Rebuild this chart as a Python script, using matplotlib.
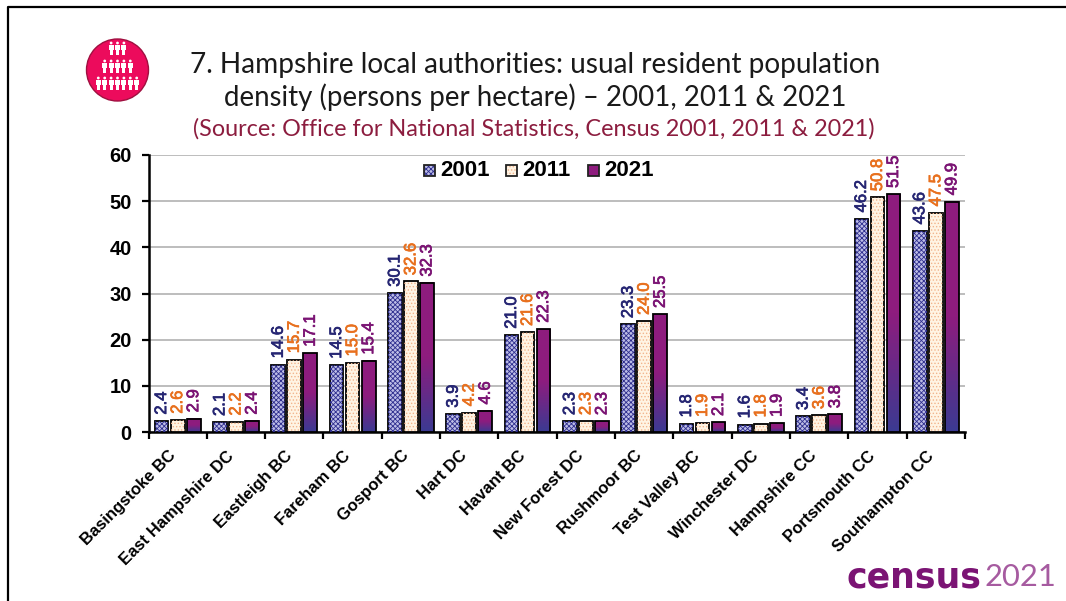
import numpy as np
import matplotlib
matplotlib.use('Agg')
import matplotlib.pyplot as plt
import matplotlib.patheffects as pe
from matplotlib.patches import Circle, Rectangle
from matplotlib.colors import LinearSegmentedColormap

# values
areas = ['Basingstoke BC', 'East Hampshire DC', 'Eastleigh BC', 'Fareham BC', 'Gosport BC',
         'Hart DC', 'Havant BC', 'New Forest DC', 'Rushmoor BC', 'Test Valley BC',
         'Winchester DC', 'Hampshire CC', 'Portsmouth CC', 'Southampton CC']
years = ['2001', '2011', '2021']
values_2001 = [2.4, 2.1, 14.6, 14.5, 30.1, 3.9, 21.0, 2.3, 23.3, 1.8, 1.6, 3.4, 46.2, 43.6]
values_2011 = [2.6, 2.2, 15.7, 15.0, 32.6, 4.2, 21.6, 2.3, 24.0, 1.9, 1.8, 3.6, 50.8, 47.5]
values_2021 = [2.9, 2.4, 17.1, 15.4, 32.3, 4.6, 22.3, 2.3, 25.5, 2.1, 1.9, 3.8, 51.5, 49.9]
y_ticks = [0, 10, 20, 30, 40, 50, 60]

W, H = 1066, 601
plt.rcParams['hatch.linewidth'] = 0.6
plt.rcParams['font.family'] = ['Liberation Sans', 'DejaVu Sans']
title_font = ['Lato', 'DejaVu Sans']

fig = plt.figure(figsize=(W / 100, H / 100), dpi=100)

# background layer in pixel coordinates for frame, icon and logo
bg = fig.add_axes([0, 0, 1, 1])
bg.set_xlim(0, W)
bg.set_ylim(H, 0)
bg.axis('off')
bg.plot([8, 8, 1066], [601, 6.5, 6.5], color='black', lw=1.6)

# population icon
bg.add_patch(Circle((117.5, 70), 31, fc='#EC0B5C', ec='#A01040', lw=1))
for row_y, count in [(48, 3), (66, 5), (83, 7)]:
    for i in range(count):
        px = 117.5 + (i - (count - 1) / 2) * 6.4
        bg.add_patch(Circle((px, row_y - 5), 1.4, fc='white', ec='none'))
        bg.add_patch(Rectangle((px - 2.5, row_y - 3.5), 5, 5.5, fc='white', ec='none'))
        bg.add_patch(Rectangle((px - 1.5, row_y + 2), 3, 5, fc='white', ec='none'))

bg.text(535, 65, '7. Hampshire local authorities: usual resident population', ha='center', va='center',
        fontsize=20.2, color='#1a1a1a', family=title_font)
bg.text(535, 97, 'density (persons per hectare) \u2013 2001, 2011 & 2021', ha='center', va='center',
        fontsize=19.9, color='#1a1a1a', family=title_font)
bg.text(534, 129, '(Source: Office for National Statistics, Census 2001, 2011 & 2021)', ha='center', va='center',
        fontsize=16.8, color='#8C1D3F', family=title_font)

bg.text(847, 577, 'census', ha='left', va='center', fontsize=25, fontweight='bold',
        color='#7B1474', family=['DejaVu Sans'])
bg.text(984, 577, '2021', ha='left', va='center', fontsize=22.2,
        color='#A65BA0', family=['Lato', 'DejaVu Sans'])

# chart
ax = fig.add_axes([148.5 / W, 1 - 432 / H, (965 - 148.5) / W, (432 - 155) / H])
ax.patch.set_alpha(0)
x = np.arange(len(areas))
w = 0.275
bw = 0.235
lw = 1.3

ax.bar(x - w, values_2001, bw, color='#BDBDE6', edgecolor='black', linewidth=lw, zorder=3)
ax.bar(x - w, values_2001, bw, color='none', edgecolor='#2F2F8F', hatch='xxxxxxx', linewidth=0, zorder=3)
ax.bar(x, values_2011, bw, color='#FFF4E4', edgecolor='black', linewidth=lw, zorder=3)
ax.bar(x, values_2011, bw, color='none', edgecolor='#F2B48C', hatch='.....', linewidth=0, zorder=3)
bars = ax.bar(x + w, values_2021, bw, color='none', edgecolor='black', linewidth=lw, zorder=5)

# 2021 bars fade from purple at the top to blue at the bottom
grad = LinearSegmentedColormap.from_list('grad', ['#3C3A92', '#8E1C7E', '#8E1C7E'])
for b in bars:
    ax.imshow(np.linspace(0, 1, 64).reshape(-1, 1), cmap=grad, origin='lower', aspect='auto', zorder=4,
              extent=(b.get_x(), b.get_x() + b.get_width(), 0, b.get_height()))

label_colours = ['#262673', '#E8701E', '#7B1474']
for off, vals, c in zip([-w, 0, w], [values_2001, values_2011, values_2021], label_colours):
    for xi, v in zip(x, vals):
        t = ax.annotate(f'{v:.1f}', (xi + off, v), xytext=(0, 4.5), textcoords='offset points',
                        rotation=90, ha='center', va='bottom', fontsize=12, color=c, zorder=6)
        t.set_path_effects([pe.withStroke(linewidth=0.5, foreground=c)])

ax.set_xlim(-0.5, len(areas) - 0.5)
ax.set_ylim(0, 60)
ax.set_yticks(y_ticks)
ax.set_xticks(np.arange(len(areas) + 1) - 0.5)
ax.set_xticklabels([])

# category labels sit a little left of and below the group centres
for xi, name in zip(x, areas):
    ax.annotate(name, (xi, 0), xycoords=('data', 'axes fraction'), xytext=(-7.2, -11.6),
                textcoords='offset points', rotation=45, ha='right', va='top', rotation_mode='anchor',
                fontsize=12, fontweight='bold', color='black', annotation_clip=False)

ax.tick_params(axis='x', which='major', length=5, width=1.6, direction='out')
ax.tick_params(axis='y', length=5, width=1.6, pad=7, labelsize=14.5)
for t in ax.get_yticklabels():
    t.set_fontweight('bold')
ax.grid(axis='y', color='#BDBDBD', lw=1.4, zorder=0)
ax.set_axisbelow(True)
ax.spines[['top', 'right']].set_visible(False)
for s in ['left', 'bottom']:
    ax.spines[s].set_linewidth(1.8)

# legend, placed by hand like the original
for (lx, label, fc, ec, hatch) in [(424, years[0], '#BDBDE6', '#2F2F8F', 'xxxxxxx'),
                                   (506, years[1], '#FFF4E4', '#F2B48C', '.....'),
                                   (588, years[2], '#8E1C7E', '#8E1C7E', None)]:
    bg.add_patch(Rectangle((lx, 165), 11, 11, fc=fc, ec='none', zorder=8))
    if hatch:
        bg.add_patch(Rectangle((lx, 165), 11, 11, fc='none', ec=ec, lw=0, hatch=hatch, zorder=8))
    bg.add_patch(Rectangle((lx, 165), 11, 11, fc='none', ec='#222222', lw=1.3, zorder=8))
    bg.text(lx + 16, 170.5, label, ha='left', va='center', fontsize=16, fontweight='bold', color='black', zorder=8)

fig.savefig('out.png', dpi=100)
